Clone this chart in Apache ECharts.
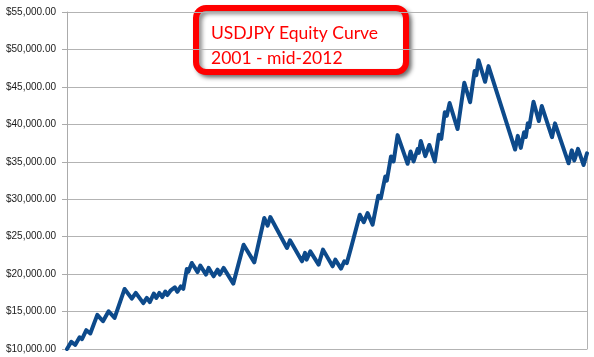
<!DOCTYPE html>
<html><head><meta charset="utf-8">
<script src="https://cdn.jsdelivr.net/npm/echarts@6/dist/echarts.min.js"></script>
<style>html,body{margin:0;padding:0;background:#fff}#c{width:594px;height:357px}</style>
</head><body><div id="c"></div>
<script>
// time position along the curve (arbitrary steps, 0..520 spans 2001 - mid-2012)
var steps = [0,4.3,8.3,12.6,15,19.3,23.3,30.3,36,41.6,47.6,57.6,64.8,68.8,76.3,79.8,82.8,86.8,89.3,92.3,95.3,98.3,100.3,103.8,105.6,107.8,110.3,113.8,116.3,119.8,121.3,124.8,130.6,133.3,139,141.6,146.6,150.6,152.8,156.6,166.3,176.6,187.3,197.3,200.6,203.3,220,223,235,238,239.6,243.3,251.6,256,265.6,268.3,274,277.3,279.8,284,285.8,292.8,296.8,300.6,305.6,311.3,313.8,318.3,319.8,324,326.6,330.6,340.6,343.6,346.6,350.6,351.8,353.8,358.3,362.3,367.8,371.8,374.3,377.8,379.8,382.6,390.6,397.3,403.1,407.6,409.3,411.5,418.1,421.5,448.1,450.8,453.8,457.1,458.8,460.8,462.3,466.5,471.8,474.8,485,488,501.6,504.8,507.3,511,516.6,520];
// equity in USD
var equity = [10000,10960,10560,11570,11330,12510,12070,14560,13710,15040,14150,18020,16730,17490,16130,16820,16260,17400,16820,17490,16930,17670,17200,17840,17670,18240,17640,18350,18040,20670,20310,21490,20270,21140,19940,20830,19710,20600,19940,20830,18730,23930,21570,27490,26460,27620,23490,24510,21710,22830,21930,23040,21270,23270,21040,21930,20730,21710,21470,23490,23270,27930,26930,28160,26600,30470,30130,33040,32470,35710,35040,38560,34730,36370,35040,36690,36190,37770,35750,37240,35040,38600,38070,41600,41130,42840,39370,45550,42950,47110,46570,48570,45680,47770,36630,38460,36860,38940,38300,40130,39640,43010,40440,42440,38280,40130,34800,36530,35170,36730,34570,36130];
var yTicks = [10000,15000,20000,25000,30000,35000,40000,45000,50000,55000];
var titleLines = ['USDJPY Equity Curve', '2001 - mid-2012'];

var chart = echarts.init(document.getElementById('c'), null, {renderer:'canvas'});
function money(v){return '$' + v.toLocaleString('en-US',{minimumFractionDigits:2,maximumFractionDigits:2});}
var pts = steps.map(function(t,i){return [t, equity[i]];});
chart.setOption({
  animation:false,
  grid:{left:67,right:7,top:12,bottom:8,containLabel:false},
  xAxis:{type:'value',min:0,max:520,show:false},
  yAxis:[{type:'value',min:yTicks[0],max:yTicks[yTicks.length-1],interval:5000,
    axisLine:{show:true,lineStyle:{color:'#ababab',width:1}},
    axisTick:{show:true,length:5,lineStyle:{color:'#ababab'}},
    splitLine:{show:true,lineStyle:{color:'#b3b3b3',width:1}},
    axisLabel:{margin:11,color:'#1a1a1a',fontFamily:'Liberation Sans, Arial',fontSize:10,formatter:money}},
    {type:'value',position:'right',min:yTicks[0],max:yTicks[yTicks.length-1],interval:5000,
    axisLine:{show:true,lineStyle:{color:'#b3b3b3',width:1}},axisTick:{show:false},axisLabel:{show:false},splitLine:{show:false}}],
  series:[{type:'line',data:pts,showSymbol:false,symbol:'none',
    lineStyle:{color:'#0d4a8b',width:4,join:'round',cap:'round'}}],
  graphic:[{type:'group',left:193,top:5,children:[
    {type:'rect',shape:{x:3,y:3,width:210,height:64,r:10},
     style:{fill:'#fff',stroke:'#ff0000',lineWidth:6,shadowBlur:4,shadowOffsetX:3,shadowOffsetY:3,shadowColor:'rgba(0,0,0,0.45)'}},
    {type:'text',x:18,y:28,style:{text:titleLines[0],fill:'#ff0000',font:'17.5px Lato',textVerticalAlign:'middle'}},
    {type:'text',x:18,y:53,style:{text:titleLines[1],fill:'#ff0000',font:'17.5px Lato',textVerticalAlign:'middle'}}
  ]}]
});
</script></body></html>
